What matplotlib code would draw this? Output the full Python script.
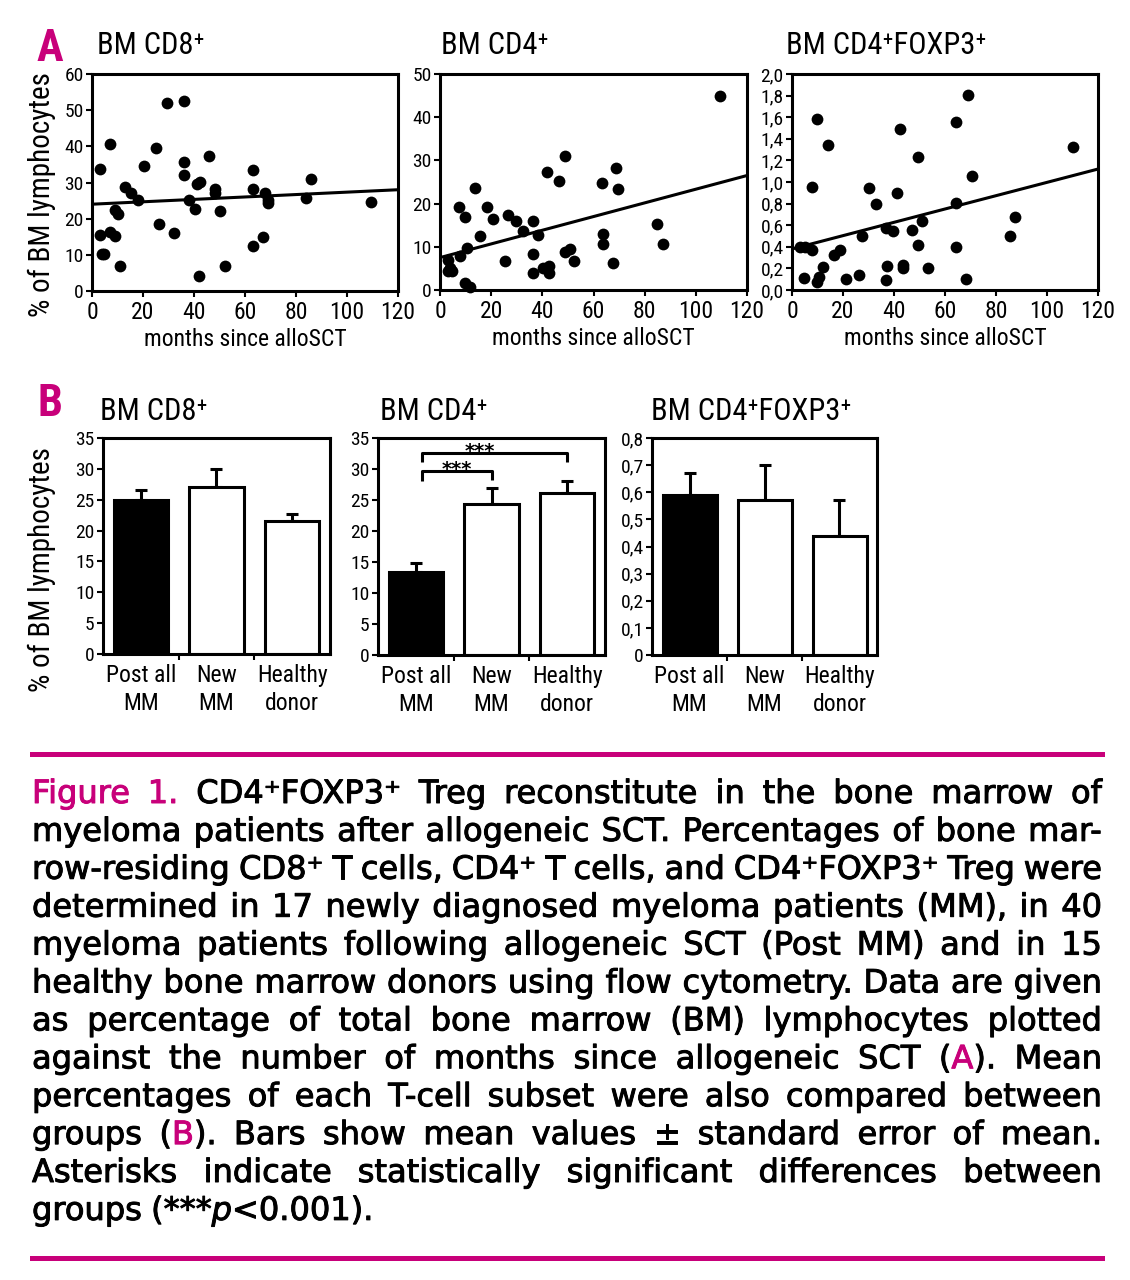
#!/usr/bin/env python3

import re
import matplotlib
matplotlib.use("Agg")
import matplotlib.pyplot as plt
import matplotlib.patheffects as pe
from matplotlib import font_manager


W, H = 1130, 1280
MAGENTA = "#c8007a"


def pick_font(names):
    for n in names:
        try:
            font_manager.findfont(font_manager.FontProperties(family=n),
                                  fallback_to_default=False)
            return n
        except ValueError:
            pass
    return "DejaVu Sans"


NARROW = pick_font(["Liberation Sans Narrow", "DejaVu Sans Condensed",
                    "Roboto Condensed", "Liberation Sans"])
CAPTION = "DejaVu Sans"
plt.rcParams["font.family"] = [NARROW, "DejaVu Sans"]

# --- panel A: scatter data (months since alloSCT, % of BM lymphocytes)
cd8_months = [3.3, 7.2, 3.0, 3.9, 4.6, 7.2, 8.9, 9.1, 10.0, 11.1, 13.0, 15.3,
              18.0, 20.5, 25.2, 26.2, 29.3, 32.0, 35.9, 35.9, 35.9, 38.2,
              40.2, 41.0, 42.4, 42.1, 46.0, 48.2, 48.2, 50.2, 52.3, 63.2,
              63.2, 63.2, 67.1, 68.0, 69.1, 69.1, 84.1, 86.0, 109.3]
cd8_pct = [33.7, 40.6, 15.4, 10.3, 10.1, 16.3, 15.1, 22.3, 21.4, 6.8, 28.8,
           27.1, 25.1, 34.7, 39.6, 18.5, 52.1, 16.1, 52.5, 35.7, 32.0, 25.1,
           22.8, 29.7, 30.2, 4.1, 37.3, 28.3, 27.1, 22.2, 6.9, 33.4, 28.1,
           12.4, 15.0, 27.1, 25.1, 24.4, 25.6, 31.1, 24.7]

cd4_months = [109.6, 48.9, 41.7, 46.7, 68.9, 63.2, 69.7, 13.7, 7.6, 18.3, 9.8,
              20.6, 26.7, 29.7, 36.5, 15.6, 32.3, 38.5, 10.4, 7.8, 63.6, 63.6,
              84.7, 87.0, 25.4, 36.5, 48.9, 50.9, 52.5, 67.6, 36.5, 40.4,
              42.8, 42.8, 3.3, 3.9, 4.6, 3.3, 9.8, 11.7]
cd4_pct = [45.0, 31.0, 27.3, 25.3, 28.2, 24.7, 23.4, 23.6, 19.1, 19.1, 16.9,
           16.4, 17.4, 16.0, 15.9, 12.6, 13.7, 12.7, 9.8, 7.8, 12.9, 10.7,
           15.3, 10.6, 6.7, 8.3, 8.7, 9.5, 6.7, 6.2, 3.9, 5.2, 5.6, 4.0, 7.0,
           5.2, 4.3, 4.3, 1.7, 0.8]

treg_months = [69.1, 64.5, 9.8, 42.4, 14.1, 110.2, 49.5, 70.4, 7.8, 30.0,
               41.1, 33.0, 64.5, 87.6, 85.6, 50.9, 46.9, 36.9, 39.5, 27.4,
               64.5, 49.5, 3.3, 5.2, 7.8, 18.9, 16.3, 12.1, 37.2, 43.4, 43.4,
               53.5, 26.1, 4.6, 10.4, 9.8, 21.3, 36.9, 68.2]
treg_pct = [1.81, 1.56, 1.58, 1.49, 1.34, 1.32, 1.23, 1.06, 0.95, 0.94, 0.90,
            0.80, 0.81, 0.68, 0.50, 0.64, 0.56, 0.57, 0.55, 0.50, 0.40, 0.42,
            0.40, 0.40, 0.37, 0.37, 0.32, 0.21, 0.22, 0.23, 0.20, 0.20, 0.14,
            0.11, 0.12, 0.07, 0.10, 0.09, 0.10]

# regression lines (value at 0 and 120 months)
fit_months = [0, 120]
cd8_fit = [24.0, 28.0]
cd4_fit = [7.5, 26.5]
treg_fit = [0.38, 1.12]

# --- panel B: group means and standard errors
groups = ["Post all\nMM", "New\nMM", "Healthy\ndonor"]
cd8_mean = [25.0, 27.0, 21.5]
cd8_sem = [1.5, 3.0, 1.2]
cd4_mean = [13.4, 24.3, 26.1]
cd4_sem = [1.4, 2.7, 2.0]
treg_mean = [0.59, 0.57, 0.44]
treg_sem = [0.08, 0.13, 0.13]

caption_lines = [
    "^Figure^ ^1.^ CD4⁺FOXP3⁺ Treg reconstitute in the bone marrow of",
    "myeloma patients after allogeneic SCT. Percentages of bone mar-",
    "row-residing CD8⁺ T cells, CD4⁺ T cells, and CD4⁺FOXP3⁺ Treg were",
    "determined in 17 newly diagnosed myeloma patients (MM), in 40",
    "myeloma patients following allogeneic SCT (Post MM) and in 15",
    "healthy bone marrow donors using flow cytometry. Data are given",
    "as percentage of total bone marrow (BM) lymphocytes plotted",
    "against the number of months since allogeneic SCT (^A^). Mean",
    "percentages of each T-cell subset were also compared between",
    "groups (^B^). Bars show mean values ± standard error of mean.",
    "Asterisks indicate statistically significant differences between",
    "groups (***_p_<0.001).",
]


fig = plt.figure(figsize=(W / 100, H / 100), dpi=100)


def px_axes(l, r, t, b):
    return fig.add_axes([l / W, 1 - b / H, (r - l) / W, (b - t) / H])


def ftext(x, y, s, **kw):
    return fig.text(x / W, 1 - y / H, s, **kw)


def style_box(ax):
    for sp in ax.spines.values():
        sp.set_linewidth(2.2)
    ax.tick_params(direction="out", length=4, width=1.5, pad=2)


def comma(v, nd=1):
    return f"{v:.{nd}f}".replace(".", ",")


def scatter_panel(ax, xs, ys, fit, ymax, ystep, decimals=False):
    ax.scatter(xs, ys, s=72, c="black", linewidths=0, zorder=3, clip_on=False)
    ax.plot(fit_months, fit, color="black", lw=2.2, zorder=2)
    ax.set_xlim(0, 120)
    ax.set_ylim(0, ymax)
    ax.set_xticks(range(0, 121, 20))
    n = int(round(ymax / ystep))
    yt = [i * ystep for i in range(n + 1)]
    ax.set_yticks(yt)
    if decimals:
        ax.set_yticklabels([comma(v) for v in yt])
    else:
        ax.set_yticklabels([str(int(round(v))) for v in yt])
    style_box(ax)
    ax.tick_params(axis="x", labelsize=17, pad=3)
    ax.tick_params(axis="y", labelsize=14)
    ax.set_xlabel("months since alloSCT", fontsize=17, labelpad=3)


def bar_panel(ax, means, sems, ymax, ystep, decimals=False):
    pos = list(range(len(groups)))
    ax.bar(pos, means, width=0.72, color=["black", "white", "white"],
           edgecolor="black", linewidth=2.2, zorder=2)
    ax.errorbar(pos, means, yerr=[[0] * len(sems), sems], fmt="none",
                ecolor="black", elinewidth=2.2, capsize=4, capthick=2.2,
                zorder=1)
    ax.set_xlim(-0.5, 2.5)
    ax.set_ylim(0, ymax)
    ax.set_xticks(pos)
    ax.set_xticklabels(groups, fontsize=17, linespacing=1.3)
    ax.set_xticks([0.5, 1.5], minor=True)
    n = int(round(ymax / ystep))
    yt = [i * ystep for i in range(n + 1)]
    ax.set_yticks(yt)
    if decimals:
        ax.set_yticklabels(["0"] + [comma(v) for v in yt[1:]])
    else:
        ax.set_yticklabels([str(int(round(v))) for v in yt])
    style_box(ax)
    ax.tick_params(axis="x", which="major", length=0, pad=7)
    ax.tick_params(axis="x", which="minor", length=4, width=1.5,
                   direction="out")
    ax.tick_params(axis="y", labelsize=14)


# --- panel A
ax1 = px_axes(92, 398, 74, 291)
scatter_panel(ax1, cd8_months, cd8_pct, cd8_fit, 60, 10)
ax2 = px_axes(440, 747, 74, 290)
scatter_panel(ax2, cd4_months, cd4_pct, cd4_fit, 50, 10)
ax3 = px_axes(792, 1098, 74, 290)
scatter_panel(ax3, treg_months, treg_pct, treg_fit, 2.0, 0.2, decimals=True)

title_kw = dict(fontsize=22, va="center", ha="left")
ftext(97, 46, "BM CD8⁺", **title_kw)
ftext(441, 46, "BM CD4⁺", **title_kw)
ftext(786, 46, "BM CD4⁺FOXP3⁺", **title_kw)
ftext(50, 49, "A", fontsize=32, weight="bold", color=MAGENTA,
      ha="center", va="center")
ftext(42, 195, "% of BM lymphocytes", fontsize=21, rotation=90,
      ha="center", va="center")

# --- panel B
bx1 = px_axes(103, 330, 438, 654)
bar_panel(bx1, cd8_mean, cd8_sem, 35, 5)
bx2 = px_axes(378, 605, 438, 655)
bar_panel(bx2, cd4_mean, cd4_sem, 35, 5)
bx3 = px_axes(652, 877, 438, 655)
bar_panel(bx3, treg_mean, treg_sem, 0.8, 0.1, decimals=True)

# significance brackets (***) in the CD4 panel
for x0, x1, y, drop_l, drop_r, xs in [(0.08, 1.0, 29.7, 28.0, 28.2, 0.54),
                                      (0.08, 2.0, 32.6, 31.2, 31.2, 0.85)]:
    bx2.plot([x0, x0, x1, x1], [drop_l, y, y, drop_r], color="black",
             lw=2.2, solid_capstyle="butt", zorder=3)
    bx2.text(xs, y - 0.6, "***", fontsize=14, weight="bold",
             ha="center", va="baseline", family="DejaVu Sans")

ftext(100, 411, "BM CD8⁺", **title_kw)
ftext(380, 411, "BM CD4⁺", **title_kw)
ftext(651, 411, "BM CD4⁺FOXP3⁺", **title_kw)
ftext(50, 404, "B", fontsize=32, weight="bold", color=MAGENTA,
      ha="center", va="center")
ftext(42, 570, "% of BM lymphocytes", fontsize=21, rotation=90,
      ha="center", va="center")

# --- rules and caption
for y in (754, 1258):
    fig.add_artist(plt.Line2D([32 / W, 1102 / W], [1 - y / H, 1 - y / H],
                              color=MAGENTA, lw=3.6))


def caption_words(line):
    words = []
    for w in line.split(" "):
        segs = []
        for part in re.split(r"(\^[^^]*\^|_[^_]*_)", w):
            if not part:
                continue
            if part.startswith("^"):
                segs.append((part[1:-1], MAGENTA, "normal"))
            elif part.startswith("_"):
                segs.append((part[1:-1], "black", "italic"))
            else:
                segs.append((part, "black", "normal"))
        words.append(segs)
    return words


renderer = fig.canvas.get_renderer()


def layout_caption(size):
    rows = []
    for line in caption_lines:
        row = []
        for segs in caption_words(line):
            word = []
            for s, c, st in segs:
                t = fig.text(0, 0, s, color=c, style=st, fontsize=size,
                             family=[CAPTION], ha="left", va="baseline",
                             path_effects=[pe.withStroke(linewidth=0.7,
                                                         foreground=c)])
                word.append((t, t.get_window_extent(renderer).width))
            row.append(word)
        rows.append(row)
    return rows


def natural_width(rows, size):
    space = size * 100 / 72 * 0.28
    return max(sum(w for word in row for _, w in word) + space * (len(row) - 1)
               for row in rows)


x_left, x_right = 32, 1102
size = 20.0
rows = layout_caption(size)
need = natural_width(rows, size)
for row in rows:
    for word in row:
        for t, _ in word:
            t.remove()
size *= (x_right - x_left) / need
rows = layout_caption(size)
space = size * 100 / 72 * 0.28

base0, step = 803, 37.9
for i, row in enumerate(rows):
    widths = [sum(w for _, w in word) for word in row]
    if i == len(rows) - 1:
        gap = space
    else:
        gap = (x_right - x_left - sum(widths)) / (len(row) - 1)
    x = x_left
    y = base0 + i * step
    for word in row:
        for t, w in word:
            t.set_position((x / W, 1 - y / H))
            x += w
        x += gap

fig.savefig("out.png", dpi=100)
